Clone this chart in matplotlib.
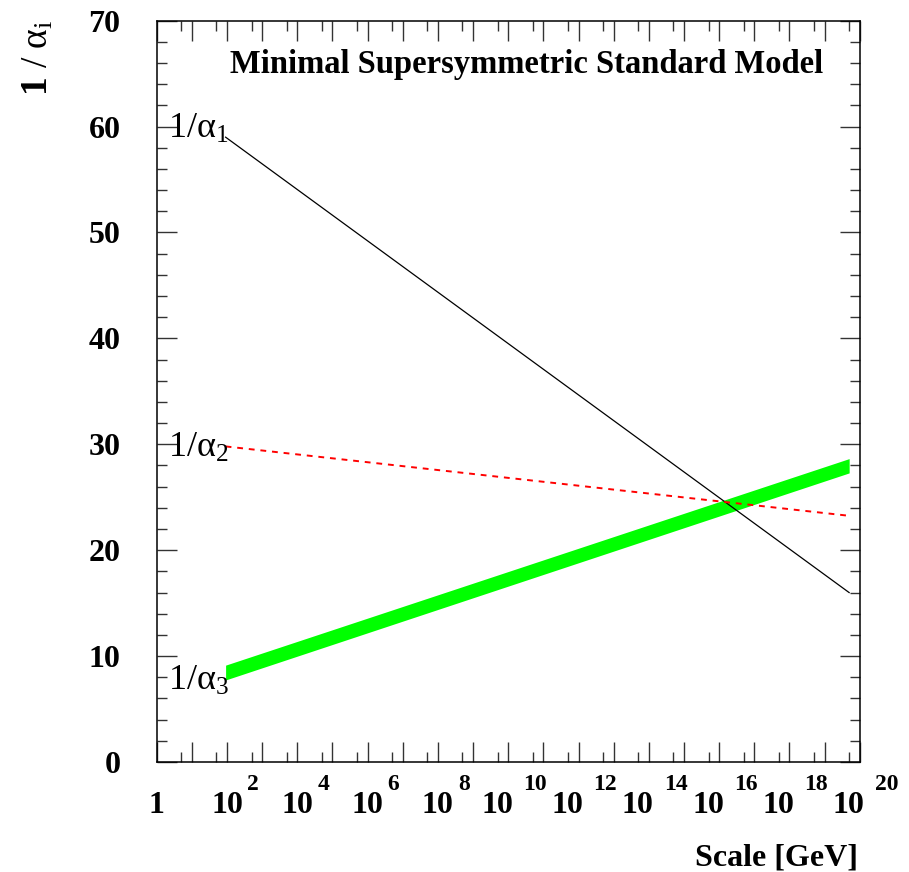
import numpy as np
import matplotlib
matplotlib.use("Agg")
import matplotlib.pyplot as plt
from matplotlib.ticker import FixedLocator, NullFormatter
from matplotlib.transforms import offset_copy

plt.rcParams['font.family'] = ['Liberation Serif', 'DejaVu Serif']
plt.rcParams['mathtext.fontset'] = 'custom'
plt.rcParams['mathtext.rm'] = 'Liberation Serif'
plt.rcParams['mathtext.it'] = 'Liberation Serif:italic'
plt.rcParams['mathtext.bf'] = 'Liberation Serif:bold'

# scale in GeV (M_Z up to the end of the running)
scale = [91.19, 5.0e19]
inv_alpha1 = [59.0, 16.0]
inv_alpha2 = [29.8, 23.25]
inv_alpha3_low = [7.75, 27.3]
inv_alpha3_high = [9.15, 28.65]

labels = [r"1/α$_1$", r"1/α$_2$", r"1/α$_3$"]
label_y = [58.9, 28.8, 6.8]
decade_labels = list(range(2, 21, 2))

fig = plt.figure(figsize=(9.09, 8.72), dpi=100)
ax = fig.add_axes([0.1724, 0.1261, 0.7734, 0.8502])

ax.fill_between(scale, inv_alpha3_low, inv_alpha3_high, color='#00ff00', lw=0, zorder=1)
ax.plot(scale, inv_alpha1, color='black', lw=0.9, zorder=2)
ax.plot(scale, inv_alpha2, color='red', lw=1.4, linestyle=(0, (3, 3)), zorder=3)

ax.set_xscale('log')
ax.set_xlim(1, 1e20)
ax.set_ylim(0, 70)

ax.xaxis.set_major_locator(FixedLocator([10.0 ** k for k in range(0, 21)]))
ax.xaxis.set_minor_locator(FixedLocator([5 * 10.0 ** k for k in range(0, 20)]))
ax.xaxis.set_major_formatter(NullFormatter())
ax.xaxis.set_minor_formatter(NullFormatter())
ax.set_yticks(range(0, 71, 10))
ax.set_yticks(range(0, 71, 2), minor=True)

ax.tick_params(which='both', direction='in', top=True, right=True, color='#333333', width=1.0)
ax.tick_params(which='major', length=14.4)
ax.tick_params(which='minor', length=7.2)
ax.tick_params(axis='y', which='major', labelsize=23, pad=26)
for lab in ax.get_yticklabels():
    lab.set_fontweight('bold')
for sp in ax.spines.values():
    sp.set_linewidth(1.1)

# x tick labels drawn ROOT style: "10" with a raised exponent
xt = ax.get_xaxis_transform()
ax.text(1, -0.0688, "1", transform=xt, ha='center', va='baseline', fontsize=23, fontweight='bold')
for k in decade_labels:
    two = k >= 10
    base_tr = offset_copy(xt, fig=fig, x=-11 if two else 0, y=0, units='dots')
    ax.text(10.0 ** k, -0.0688, "10", transform=base_tr, ha='center', va='baseline',
            fontsize=23, fontweight='bold', clip_on=False)
    exp_tr = offset_copy(xt, fig=fig, x=15 if two else 20, y=0, units='dots')
    ax.text(10.0 ** k, -0.0378, str(k), transform=exp_tr, ha='left', va='baseline',
            fontsize=17, fontweight='bold', clip_on=False)

for txt, yv in zip(labels, label_y):
    ax.text(2.1, yv, txt, ha='left', va='baseline', fontsize=26)

ax.text(0.948, 0.9295, "Minimal Supersymmetric Standard Model", transform=ax.transAxes,
        ha='right', va='baseline', fontsize=23.5, fontweight='bold')

fig.text(38.5 / 909, 1 - 57.5 / 872, r"$\mathbf{1}$ / α$_{\mathrm{i}}$", rotation=90,
         ha='center', va='center', fontsize=27)
fig.text(858 / 909, 1 - 865 / 872, "Scale [GeV]", ha='right', va='baseline',
         fontsize=23, fontweight='bold')

fig.savefig("out.png", dpi=100)
